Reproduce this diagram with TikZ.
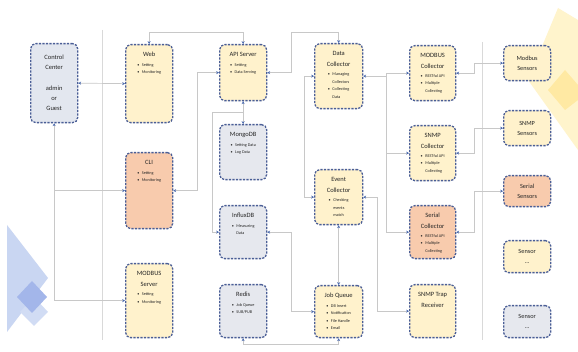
\documentclass[tikz,border=0pt]{standalone}
\usepackage{fontspec}
\setmainfont{Carlito}
\usetikzlibrary{arrows.meta,calc}
\definecolor{yel}{HTML}{FFF2CC}
\definecolor{pea}{HTML}{F8CBAD}
\definecolor{gry}{HTML}{E6E8EE}
\definecolor{ccg}{HTML}{E3E7EF}
\definecolor{bord}{HTML}{4A5E96}
\definecolor{linec}{HTML}{C8C8C8}
\definecolor{tipc}{HTML}{4A6AAE}
\definecolor{decoy}{HTML}{FFF4CC}
\definecolor{decoy2}{HTML}{FFE9A3}
\definecolor{decob}{HTML}{C9D6F2}
\definecolor{decob2}{HTML}{A3B6EA}
\definecolor{txtc}{HTML}{262626}
\newcommand\bl[1]{{\fontsize{4.2}{7.5}\selectfont\begin{tabular}[t]{@{}l@{\hspace{2.5pt}}l@{}}#1\end{tabular}}}
\newcommand\bu{\textbullet}
\newcommand\fs{\rule{0pt}{5pt}}
\begin{document}
\begin{tikzpicture}[x=1pt,y=-1pt,
 box/.style={draw=bord, line width=1.3pt, dash pattern=on 2.2pt off 1.3pt, rounded corners=5pt, anchor=north west, inner sep=0pt},
 ttl/.style={anchor=north, inner sep=0pt, align=center, font=\fontsize{6.5}{10.5}\selectfont, text=txtc},
 ctr/.style={inner sep=0pt, align=center, font=\fontsize{6.3}{10}\selectfont, text=txtc},
 conn/.style={draw=linec, line width=0.7pt},
 lane/.style={draw=linec!70, line width=0.6pt},
 >={Stealth[length=2.8pt,width=3pt,color=tipc]}]
\useasboundingbox (0,0) rectangle (578,352);
\fill[white] (0,0) rectangle (578,352);
% decorations
\fill[decoy] (528,80) -- (558,8) -- (578,20) -- (578,150) -- cycle;
\fill[decoy2] (548,90) -- (565,70) -- (578,85) -- (578,100) -- (565,110) -- cycle;
\fill[decob] (7,225) -- (48,278) -- (7,332) -- cycle;
\fill[decob!85!white] (20,312) -- (34,297) -- (48,312) -- (34,326) -- cycle;
\fill[decob2] (17,297) -- (32,281) -- (47,297) -- (32,313) -- cycle;
% lanes
\draw[lane] (102,30) -- (102,340);
\draw[lane] (482,42) -- (482,340);
% boxes
\node[box, fill=ccg, minimum width=47pt, minimum height=79pt] (cc) at (30,43) {};
\node[box, fill=yel, minimum width=47pt, minimum height=78pt] (web) at (125,44) {};
\node[box, fill=pea, minimum width=47pt, minimum height=76pt] (cli) at (125,152) {};
\node[box, fill=yel, minimum width=47pt, minimum height=74pt] (mbs) at (125,263) {};
\node[box, fill=yel, minimum width=47pt, minimum height=56pt] (api) at (219,44) {};
\node[box, fill=gry, minimum width=47pt, minimum height=55pt] (mongo) at (219,124) {};
\node[box, fill=gry, minimum width=47pt, minimum height=53pt] (influx) at (219,205) {};
\node[box, fill=gry, minimum width=47pt, minimum height=53pt] (redis) at (219,284) {};
\node[box, fill=yel, minimum width=48pt, minimum height=65pt] (dc) at (314,43) {};
\node[box, fill=yel, minimum width=48pt, minimum height=55pt] (ec) at (314,169) {};
\node[box, fill=yel, minimum width=48pt, minimum height=52pt] (jq) at (314,285) {};
\node[box, fill=yel, minimum width=46pt, minimum height=55pt] (mbc) at (409,45) {};
\node[box, fill=yel, minimum width=46pt, minimum height=55pt] (snc) at (409,125) {};
\node[box, fill=pea, minimum width=46pt, minimum height=53pt] (sec) at (409,205) {};
\node[box, fill=yel, minimum width=46pt, minimum height=53pt] (trap) at (409,284) {};
\node[box, fill=yel, minimum width=47pt, minimum height=35pt] (ms) at (503,45) {};
\node[box, fill=yel, minimum width=47pt, minimum height=35pt] (ss) at (503,110) {};
\node[box, fill=pea, minimum width=47pt, minimum height=31pt] (srs) at (503,175) {};
\node[box, fill=yel, minimum width=47pt, minimum height=32pt] (s1) at (503,240) {};
\node[box, fill=gry, minimum width=47pt, minimum height=32pt] (s2) at (503,305) {};
% texts
\node[ctr, font=\fontsize{6.5}{10}\selectfont] (cct) at (cc.center) {Control\\Center\\[11pt]admin\\or\\Guest};
\node[ttl] (webt) at ([yshift=-7.7pt]web.north) {\fs Web\\[-1pt]\bl{\bu&Setting\\\bu&Monitoring}};
\node[ttl] (clit) at ([yshift=-7.7pt]cli.north) {\fs CLI\\[-1pt]\bl{\bu&Setting\\\bu&Monitoring}};
\node[ttl] (mbst) at ([yshift=-7.7pt]mbs.north) {\fs MODBUS\\Server\\[-1pt]\bl{\bu&Setting\\\bu&Monitoring}};
\node[ttl] (apit) at ([yshift=-7.7pt]api.north) {\fs API Server\\[-1pt]\bl{\bu&Setting\\\bu&Data Serving}};
\node[ttl] (mongot) at ([yshift=-7.7pt]mongo.north) {\fs MongoDB\\[-1pt]\bl{\bu&Setting Data\\\bu&Log Data}};
\node[ttl] (influxt) at ([yshift=-7.7pt]influx.north) {\fs InfluxDB\\[-1pt]\bl{\bu&Measuring\\&Data}};
\node[ttl] (redist) at ([yshift=-7.7pt]redis.north) {\fs Redis\\[-1pt]\bl{\bu&Job Queue\\\bu&SUB/PUB}};
\node[ttl] (dct) at ([yshift=-7.7pt]dc.north) {\fs Data\\Collector\\[-1pt]\bl{\bu&Managing\\&Collectors\\\bu&Collecting\\&Data}};
\node[ttl] (ect) at ([yshift=-7.7pt]ec.north) {\fs Event\\Collector\\[-1pt]\bl{\bu&Checking\\&events\\&match}};
\node[ttl] (jqt) at ([yshift=-7.7pt]jq.north) {\fs Job Queue\\[-1pt]\bl{\bu&DB Insert\\\bu&Notification\\\bu&File Handle\\\bu&Email}};
\node[ttl] (mbct) at ([yshift=-7.7pt]mbc.north) {\fs MODBUS\\Collector\\[-1.5pt]\bl{\bu&RESTful API\\\bu&Multiple\\&Collecting}};
\node[ttl] (snct) at ([yshift=-7.7pt]snc.north) {\fs SNMP\\Collector\\[-1.5pt]\bl{\bu&RESTful API\\\bu&Multiple\\&Collecting}};
\node[ttl] (sect) at ([yshift=-7.7pt]sec.north) {\fs Serial\\Collector\\[-1.5pt]\bl{\bu&RESTful API\\\bu&Multiple\\&Collecting}};
\node[ttl] (trapt) at ([yshift=-7.7pt]trap.north) {\fs SNMP Trap\\Receiver};
\node[ctr] (mst) at (ms.center) {Modbus\\Sensors};
\node[ctr] (sst) at (ss.center) {SNMP\\Sensors};
\node[ctr] (srst) at (srs.center) {Serial\\Sensors};
\node[ctr] (s1t) at (s1.center) {Sensor\\...};
\node[ctr] (s2t) at (s2.center) {Sensor\\...};
% connectors
\draw[conn,<->] (cc.east) -- (web.west);
\draw[conn,<->] (cc.south) |- (mbs.west);
\draw[conn,->] (cc.south |- cli.west) -- (cli.west);
\draw[conn,<->] (web.north) -- ([yshift=12pt]web.north) -| (api.north);
\draw[conn,<->] (cli.east) -- ++(24,0) |- (api.west);
\draw[conn,<->] (api.east) -- ++(24,0) |- ([yshift=11pt]dc.north) -- (dc.north);
\draw[conn,<->] (api.south) -- (mongo.north);
\coordinate (am) at ($(api.south)!0.5!(mongo.north)$);
\draw[conn,->] (am) -- ++(-31,0) |- (influx.west);
\draw[conn,<->] (influx.east) -- ++(24,0) |- (jq.west);
\draw[conn,<->] (redis.south) -- ++(0,6) -| (jq.south);
\draw[conn,<->] (ec.south) -- (jq.north);
\draw[conn,<->] (dc.west) -- ++(-10,0) |- (ec.west);
\coordinate (bus) at ([xshift=23pt]dc.east);
\draw[conn,<->] (dc.east) -- (bus) |- (mbc.west);
\draw[conn,->] (bus) |- (snc.west);
\draw[conn,->] (bus) |- (sec.west);
\draw[conn,<->] (ec.east) -- ++(14,0) |- (trap.west);
\draw[conn,<->] (mbc.east) -- ++(18,0) |- (ms.west);
\draw[conn,<->] (snc.east) -- ++(18,0) |- (ss.west);
\draw[conn,<->] (sec.east) -- ++(18,0) |- (srs.west);
\end{tikzpicture}
\end{document}
